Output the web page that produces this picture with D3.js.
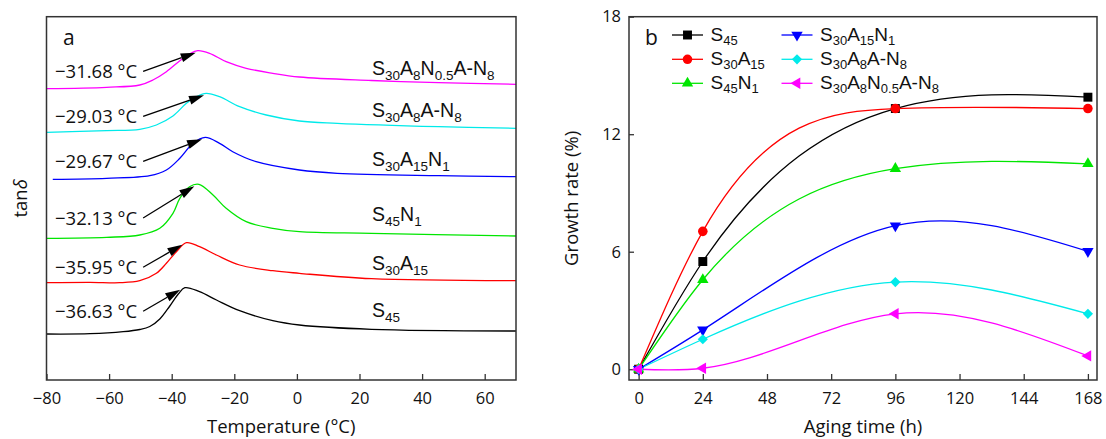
<!DOCTYPE html>
<html><head><meta charset="utf-8">
<script src="https://cdn.jsdelivr.net/npm/d3@7"></script>
<style>
body{margin:0;background:#fff}
svg{display:block}
text{font-family:"Open Sans",sans-serif;fill:#111}
text.lbl{font-family:"Liberation Sans",Arial,sans-serif}
</style>
</head><body>
<svg id="c" width="1106" height="439"></svg>
<script>
// ================= DATA =================
// Panel a: DMA loss factor, tanδ (arbitrary units, curves vertically offset) vs temperature (°C)
const tempTicks = [-80, -60, -40, -20, 0, 20, 40, 60];
const dmaNames = ["S_{45}", "S_{30}A_{15}", "S_{45}N_{1}", "S_{30}A_{15}N_{1}", "S_{30}A_{8}A-N_{8}", "S_{30}A_{8}N_{0.5}A-N_{8}"];
const dmaTg = [-36.63, -35.95, -32.13, -29.67, -29.03, -31.68];
const dmaS45 = [[-80,0.460],[-66.1,0.463],[-55.5,0.483],[-50.2,0.505],[-47.0,0.535],[-43.8,0.610],[-40.6,0.740],[-37.9,0.860],[-35.8,0.923],[-31.1,0.883],[-25.7,0.800],[-18.3,0.693],[-7.7,0.593],[0.8,0.550],[23.8,0.507],[70,0.490]];
const dmaS30A15 = [[-80,0.973],[-66.1,0.977],[-56.6,0.973],[-50.2,0.993],[-44.9,1.067],[-41.7,1.167],[-38.5,1.283],[-35.3,1.373],[-31.1,1.333],[-25.7,1.250],[-18.3,1.150],[-7.7,1.093],[0.8,1.067],[23.8,1.013],[70,0.993]];
const dmaS45N1 = [[-80,1.417],[-60.8,1.427],[-50.2,1.450],[-43.8,1.517],[-39.6,1.667],[-37.4,1.817],[-34.3,1.933],[-31.3,1.957],[-26.8,1.850],[-22.6,1.717],[-16.2,1.583],[-7.7,1.517],[0.8,1.483],[23.8,1.467],[70,1.440]];
const dmaS30A15N1 = [[-78.0,2.007],[-60.8,2.017],[-47.0,2.043],[-41.7,2.100],[-37.4,2.217],[-33.2,2.367],[-29.3,2.427],[-24.7,2.367],[-20.5,2.283],[-13.0,2.183],[0.8,2.100],[12.9,2.067],[45.3,2.043],[70,2.033]];
const dmaS30A8AN8 = [[-80,2.477],[-60.8,2.493],[-50.2,2.507],[-44.9,2.550],[-39.6,2.640],[-35.3,2.767],[-32.1,2.833],[-29.0,2.867],[-24.7,2.833],[-18.3,2.733],[-9.8,2.650],[0.8,2.590],[12.9,2.567],[45.3,2.533],[70,2.517]];
const dmaS30A8N05AN8 = [[-80,2.913],[-60.8,2.927],[-50.2,2.950],[-46.0,3.000],[-41.7,3.083],[-37.4,3.193],[-34.3,3.260],[-31.7,3.293],[-27.9,3.267],[-22.6,3.183],[-16.2,3.117],[-7.7,3.067],[0.8,3.030],[23.8,2.995],[45.3,2.973],[70,2.957]];

// Panel b: growth rate (%) vs aging time (h)
const agingTicks = [0, 24, 48, 72, 96, 120, 144, 168];
const growthTicks = [0, 6, 12, 18];
const agingTime = [0, 24, 96, 168];
const growthNames = ["S_{45}", "S_{30}A_{15}", "S_{45}N_{1}", "S_{30}A_{15}N_{1}", "S_{30}A_{8}A-N_{8}", "S_{30}A_{8}N_{0.5}A-N_{8}"];
const growthS45 = [0, 5.50, 13.31, 13.89];
const growthS30A15 = [0, 7.04, 13.31, 13.31];
const growthS45N1 = [0, 4.57, 10.24, 10.49];
const growthS30A15N1 = [0, 2.01, 7.33, 6.02];
const growthS30A8AN8 = [0, 1.53, 4.45, 2.83];
const growthS30A8N05AN8 = [0, 0.05, 2.83, 0.68];

// ================= STYLE / LAYOUT =================
const colors = ["#000000", "#ff0000", "#00e600", "#0000ff", "#00eaea", "#ff00ff"];
const FONT_TICK = 16.5, FONT_TITLE = 18.5;
const svg = d3.select("#c");

function richText(sel, str, size, subSize, drop) {
  const re = /_\{([^}]*)\}/g; let last = 0, m; const parts = [];
  while ((m = re.exec(str))) {
    if (m.index > last) parts.push([str.slice(last, m.index), false]);
    parts.push([m[1], true]); last = re.lastIndex;
  }
  if (last < str.length) parts.push([str.slice(last), false]);
  let sub = false;
  sel.attr("class", "lbl");
  parts.forEach(([t, isSub]) => {
    const ts = sel.append("tspan").text(t).attr("font-size", isSub ? subSize : size);
    if (isSub && !sub) ts.attr("dy", drop);
    else if (!isSub && sub) ts.attr("dy", -drop);
    sub = isSub;
  });
  return sel;
}

// Natural cubic spline (in x) as a d3 curve
function curveNaturalX(context) {
  return {
    areaStart() {}, areaEnd() {},
    lineStart() { this._x = []; this._y = []; },
    point(x, y) { this._x.push(+x); this._y.push(+y); },
    lineEnd() {
      const X = this._x, Y = this._y, n = X.length;
      if (!n) return;
      context.moveTo(X[0], Y[0]);
      if (n < 3) { for (let i = 1; i < n; i++) context.lineTo(X[i], Y[i]); return; }
      const h = [], d = [];
      for (let i = 0; i < n - 1; i++) { h.push(X[i + 1] - X[i]); d.push((Y[i + 1] - Y[i]) / h[i]); }
      const M = new Array(n).fill(0);
      const a = [], b = [], c = [], r = [];
      for (let i = 1; i < n - 1; i++) {
        a.push(h[i - 1]); b.push(2 * (h[i - 1] + h[i])); c.push(h[i]); r.push(6 * (d[i] - d[i - 1]));
      }
      const m = b.length;
      for (let i = 1; i < m; i++) { const w = a[i] / b[i - 1]; b[i] -= w * c[i - 1]; r[i] -= w * r[i - 1]; }
      const sol = new Array(m);
      sol[m - 1] = r[m - 1] / b[m - 1];
      for (let i = m - 2; i >= 0; i--) sol[i] = (r[i] - c[i] * sol[i + 1]) / b[i];
      for (let i = 0; i < m; i++) M[i + 1] = sol[i];
      for (let i = 0; i < n - 1; i++) {
        const s0 = d[i] - h[i] * (2 * M[i] + M[i + 1]) / 6;
        const s1 = d[i] + h[i] * (M[i] + 2 * M[i + 1]) / 6;
        context.bezierCurveTo(X[i] + h[i] / 3, Y[i] + s0 * h[i] / 3,
                              X[i + 1] - h[i] / 3, Y[i + 1] - s1 * h[i] / 3,
                              X[i + 1], Y[i + 1]);
      }
    }
  };
}

// ================= PANEL A =================
const A = {l: 46.5, r: 516, t: 16.7, b: 380};
const xa = d3.scaleLinear().domain([-80, 70]).range([A.l, A.r]);
const ya = d3.scaleLinear().domain([0, 3.633]).range([A.b, A.t]);
const dmaData = [dmaS45, dmaS30A15, dmaS45N1, dmaS30A15N1, dmaS30A8AN8, dmaS30A8N05AN8];

const ga = svg.append("g");
const axA = ga.append("g").attr("transform", `translate(0,${A.b})`)
  .call(d3.axisBottom(xa).tickValues(tempTicks).tickSizeInner(-6).tickSizeOuter(0).tickPadding(12)
    .tickFormat(d => d < 0 ? "\u2212" + Math.abs(d) : d));
axA.select(".domain").remove();
axA.selectAll("line").attr("stroke", "#333").attr("stroke-width", 1.3);
axA.selectAll("text").attr("font-size", FONT_TICK).attr("font-family", '"Open Sans",sans-serif').attr("fill", "#111");

const lineA = d3.line().x(d => xa(d[0])).y(d => ya(d[1])).curve(d3.curveCatmullRom.alpha(0.5));
dmaData.forEach((s, i) => {
  ga.append("path").attr("d", lineA(s)).attr("fill", "none").attr("stroke", colors[i]).attr("stroke-width", 1.3);
});

// series labels (right) and Tg labels (left) with arrows
const nameOffsets = [-14, -10.7, -15.3, -11, -11, -9];
const tgOffsets = [-15.7, -8.4, -13.3, -11, -9, -10.4];
dmaData.forEach((s, i) => {
  const lastV = s[s.length - 1][1], firstV = s[0][1];
  richText(ga.append("text").attr("x", 372).attr("y", ya(lastV) + nameOffsets[i]), dmaNames[i], 19.5, 13.5, 5);
  const tBase = ya(firstV) + tgOffsets[i];
  const t = ga.append("text").attr("x", 55).attr("y", tBase).attr("font-size", 18.5)
    .text("\u2212" + Math.abs(dmaTg[i]).toFixed(2) + " \u00B0C");
  const tx = 55 + t.node().getComputedTextLength() + 6, ty = tBase - 7;
  const peak = d3.max(s, d => d[1]);
  const hx = xa(dmaTg[i]) - 2, hy = ya(peak) + 2;
  const ang = Math.atan2(hy - ty, hx - tx), L = 15, Wd = 4.5;
  const bx = hx - L * Math.cos(ang), by = hy - L * Math.sin(ang);
  ga.append("line").attr("x1", tx).attr("y1", ty).attr("x2", bx).attr("y2", by).attr("stroke", "#000").attr("stroke-width", 1.3);
  ga.append("path").attr("d", `M${hx},${hy}L${bx + Wd * Math.sin(ang)},${by - Wd * Math.cos(ang)}L${bx - Wd * Math.sin(ang)},${by + Wd * Math.cos(ang)}Z`).attr("fill", "#000");
});

ga.append("rect").attr("x", A.l).attr("y", A.t).attr("width", A.r - A.l).attr("height", A.b - A.t)
  .attr("fill", "none").attr("stroke", "#333").attr("stroke-width", 1.5);
ga.append("text").attr("x", 63).attr("y", 45).attr("font-size", 21).text("a");
ga.append("text").attr("x", (A.l + A.r) / 2).attr("y", 433).attr("text-anchor", "middle").attr("font-size", FONT_TITLE).text("Temperature (\u00B0C)");
const tl = ga.append("text").attr("transform", `translate(27,${(A.t + A.b) / 2}) rotate(-90)`).attr("text-anchor", "middle").attr("font-size", FONT_TITLE);
tl.append("tspan").text("tan");
tl.append("tspan").attr("font-style", "italic").text("\u03B4");

// ================= PANEL B =================
const B = {l: 629, r: 1097, t: 16.7, b: 380};
const xb = d3.scaleLinear().domain([-3.6, 171.4]).range([B.l, B.r]);
const yb = d3.scaleLinear().domain([-0.55, 18]).range([B.b, B.t]);
const growthData = [growthS45, growthS30A15, growthS45N1, growthS30A15N1, growthS30A8AN8, growthS30A8N05AN8];
const symbols = [
  {t: d3.symbolSquare, s: 80, rot: 0},
  {t: d3.symbolCircle, s: 72, rot: 0},
  {t: d3.symbolTriangle, s: 56, rot: 0},
  {t: d3.symbolTriangle, s: 56, rot: 180},
  {t: d3.symbolSquare, s: 52, rot: 45},
  {t: d3.symbolTriangle, s: 56, rot: -90}
];

const gb = svg.append("g");
const axBx = gb.append("g").attr("transform", `translate(0,${B.b})`)
  .call(d3.axisBottom(xb).tickValues(agingTicks).tickSizeInner(-6).tickSizeOuter(0).tickPadding(12));
const axBy = gb.append("g").attr("transform", `translate(${B.l},0)`)
  .call(d3.axisLeft(yb).tickValues(growthTicks).tickSizeInner(-5).tickSizeOuter(0).tickPadding(8));
[axBx, axBy].forEach(ax => {
  ax.select(".domain").remove();
  ax.selectAll("line").attr("stroke", "#333").attr("stroke-width", 1.3);
  ax.selectAll("text").attr("font-size", FONT_TICK).attr("font-family", '"Open Sans",sans-serif').attr("fill", "#111");
});

const lineB = d3.line().x((d, i) => xb(agingTime[i])).y(d => yb(d)).curve(curveNaturalX);
growthData.forEach((s, i) => {
  gb.append("path").attr("d", lineB(s)).attr("fill", "none").attr("stroke", colors[i]).attr("stroke-width", 1.3);
});
growthData.forEach((s, i) => {
  const sym = symbols[i];
  gb.selectAll(null).data(s).enter().append("path")
    .attr("d", d3.symbol().type(sym.t).size(sym.s)())
    .attr("transform", (d, j) => `translate(${xb(agingTime[j])},${yb(d)}) rotate(${sym.rot})`)
    .attr("fill", colors[i]);
});

gb.append("rect").attr("x", B.l).attr("y", B.t).attr("width", B.r - B.l).attr("height", B.b - B.t)
  .attr("fill", "none").attr("stroke", "#333").attr("stroke-width", 1.5);
gb.append("text").attr("x", 645).attr("y", 45).attr("font-size", 21).text("b");
gb.append("text").attr("x", (B.l + B.r) / 2).attr("y", 433).attr("text-anchor", "middle").attr("font-size", FONT_TITLE).text("Aging time (h)");
gb.append("text").attr("transform", `translate(578,${(B.t + B.b) / 2}) rotate(-90)`).attr("text-anchor", "middle").attr("font-size", FONT_TITLE).text("Growth rate (%)");

// legend
const legColX = [672, 781.5], legRowY = [35, 59.3, 83.3];
growthNames.forEach((nm, i) => {
  const cx = legColX[Math.floor(i / 3)], cy = legRowY[i % 3];
  const sym = symbols[i];
  gb.append("line").attr("x1", cx).attr("x2", cx + 31).attr("y1", cy).attr("y2", cy).attr("stroke", colors[i]).attr("stroke-width", 1.3);
  gb.append("path").attr("d", d3.symbol().type(sym.t).size(sym.s)())
    .attr("transform", `translate(${cx + 15.5},${cy}) rotate(${sym.rot})`).attr("fill", colors[i]);
  richText(gb.append("text").attr("x", cx + 38.5).attr("y", cy + 6), nm, 19, 13, 3.5);
});
</script>
</body></html>
